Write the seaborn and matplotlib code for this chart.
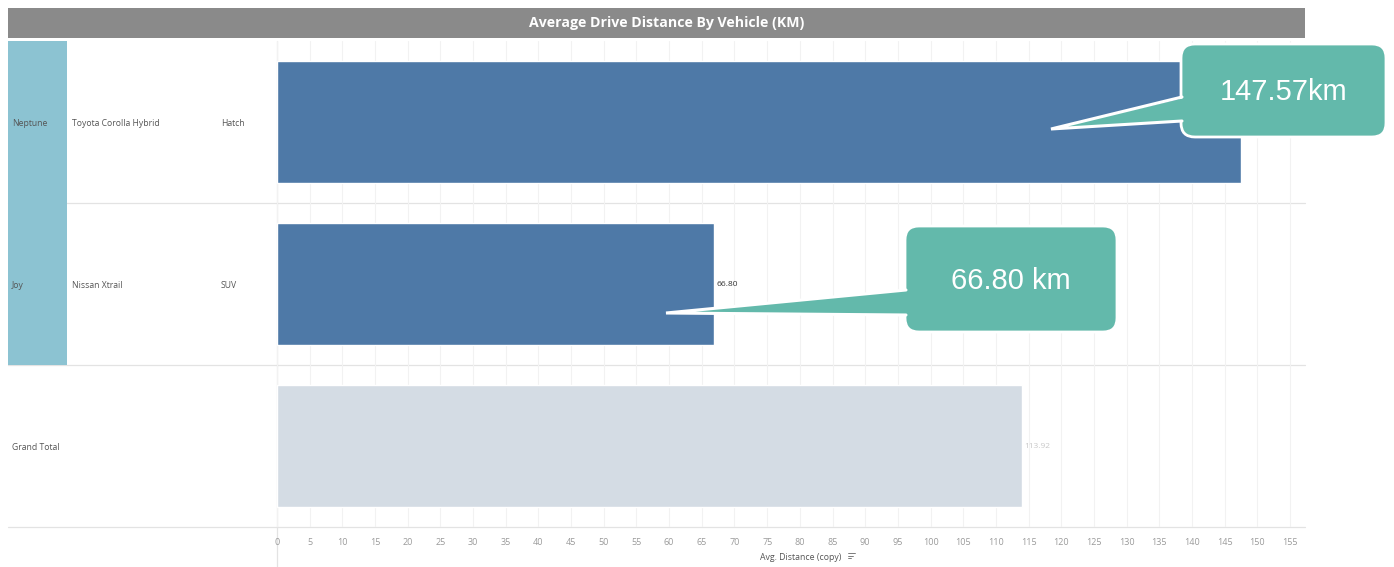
import matplotlib
matplotlib.use("Agg")
import matplotlib.pyplot as plt
from matplotlib.patches import Rectangle, FancyBboxPatch, Polygon
import seaborn as sns
import pandas as pd

# ---- data ----
drivers = ["Neptune", "Joy", "Grand Total"]
models = ["Toyota Corolla Hybrid", "Nissan Xtrail", ""]
body_types = ["Hatch", "SUV", ""]
avg_distance = [147.57, 66.80, 113.92]
x_ticks = list(range(0, 160, 5))
title = "Average Drive Distance By Vehicle (KM)"
x_label = "Avg. Distance (copy)"

df = pd.DataFrame({"row": ["r0", "r1", "r2"], "dist": avg_distance})

W, H = 1394, 567
sns.set_theme(style="white")
plt.rcParams["font.family"] = ["Open Sans", "DejaVu Sans"]

fig = plt.figure(figsize=(W / 100, H / 100), dpi=100)
fig.patch.set_facecolor("white")

def fx(px):
    return px / W

def fy(py):
    return 1 - py / H

# background layer (header panel, separators)
bg = fig.add_axes([0, 0, 1, 1], zorder=0)
bg.set_xlim(0, W)
bg.set_ylim(H, 0)
bg.axis("off")

# main bar axes
L, R, T, B = 277, 1305, 41, 527
ax = fig.add_axes([fx(L), fy(B), fx(R) - fx(L), (B - T) / H], zorder=1)
ax.patch.set_alpha(0)

bar_colors = ["#4e79a7", "#4e79a7", "#d4dce4"]
sns.barplot(data=df, x="dist", y="row", hue="row", palette=bar_colors,
            legend=False, width=0.75, ax=ax, saturation=1)

xmax = (R - L) / ((1290 - 277) / 155)
ax.set_xlim(0, xmax)
ax.set_ylim(2.5, -0.5)
ax.set_xticks(x_ticks)
ax.set_xticklabels([str(t) for t in x_ticks], fontsize=6.5, color="#9a9a9a")
ax.tick_params(axis="x", length=0, pad=8)
ax.set_yticks([])
ax.set_ylabel("")
ax.set_xlabel("")
for s in ax.spines.values():
    s.set_visible(False)
for t in x_ticks:
    ax.axvline(t, color="#f2f2f2", lw=0.8, zorder=0)

# value labels beside bars
ax.text(avg_distance[1] + 0.4, 1, f"{avg_distance[1]:.2f}", fontsize=6,
        color="#333333", va="center", ha="left")
ax.text(avg_distance[2] + 0.4, 2, f"{avg_distance[2]:.2f}", fontsize=6,
        color="#c8c8c8", va="center", ha="left")

# title bar
bg.add_patch(Rectangle((8, 8), 1297, 30, color="#8a8a8a", lw=0))
bg.text(667, 23, title, color="white", fontsize=10.2,
        fontweight="bold", ha="center", va="center")

# row separators and pane border
for yy in [203, 365, 527]:
    bg.plot([8, 1305], [yy, yy], color="#e3e3e3", lw=0.9, zorder=1)
bg.plot([277, 277], [41, 567], color="#e3e3e3", lw=0.9, zorder=1)

# header column for driver names
bg.add_patch(Rectangle((8, 41), 59, 324, color="#8cc3d2", lw=0, zorder=2))

# row header texts
row_centers = [122, 284, 447]
for i, yc in enumerate(row_centers):
    bg.text(12, yc + 1, drivers[i], fontsize=6.2, color="#555555", va="center", zorder=3)
    if models[i]:
        bg.text(72, yc + 1, models[i], fontsize=6.2, color="#555555", va="center", zorder=3)
    if body_types[i]:
        bg.text(221, yc + 1, body_types[i], fontsize=6.2, color="#555555", va="center", zorder=3)

# axis title with sort icon
bg.text(801, 557, x_label, fontsize=6.3, color="#555555", ha="center", va="center")
for k, ln in enumerate([7, 5, 3]):
    bg.plot([848, 848 + ln], [553 + k * 2.5, 553 + k * 2.5], color="#666666", lw=0.6)

# callouts on top
fg = fig.add_axes([0, 0, 1, 1], zorder=3)
fg.set_xlim(0, W)
fg.set_ylim(H, 0)
fg.axis("off")
fg.patch.set_alpha(0)

teal = "#63b9ab"

def callout(box, tip, wedge_y, text):
    x0, y0, x1, y1 = box
    rect = FancyBboxPatch((x0, y0), x1 - x0, y1 - y0,
                          boxstyle="round,pad=0,rounding_size=14",
                          facecolor=teal, edgecolor="white", lw=2, zorder=1)
    fg.add_patch(rect)
    # pointer: teal fill overlapping the box edge, white outline on slanted sides
    fg.add_patch(Polygon([(x0 + 8, wedge_y[0]), tip, (x0 + 8, wedge_y[1])],
                         closed=True, facecolor=teal, edgecolor="none", zorder=2))
    fg.plot([x0 + 1, tip[0], x0 + 1], [wedge_y[0], tip[1], wedge_y[1]],
            color="white", lw=2.2, solid_joinstyle="miter", zorder=3)
    fg.text((x0 + x1) / 2, (y0 + y1) / 2 + 2, text, color="white", fontsize=21,
            ha="center", va="center", family="Liberation Sans", zorder=4)

callout((1181, 44, 1386, 137), (1051, 129), (97, 121),
        f"{avg_distance[0]:.2f}km")
callout((905, 226, 1117, 332), (666, 313), (290, 315),
        f"{avg_distance[1]:.2f} km")

fig.savefig("out.png", dpi=100, facecolor="white")
